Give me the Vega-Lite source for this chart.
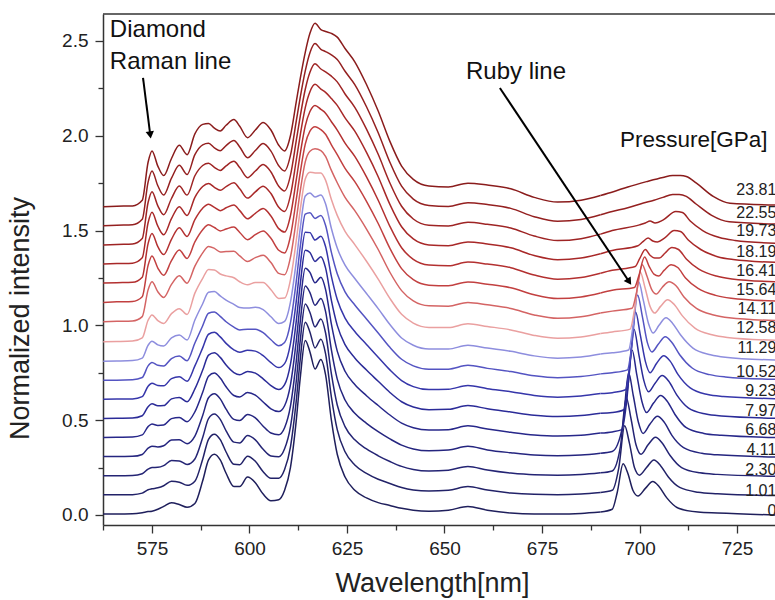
{
"$schema": "https://vega.github.io/schema/vega-lite/v6.json",
"width": 672, "height": 511,
"autosize": {"type": "none"},
"padding": {"left": 103, "top": 14, "right": 0, "bottom": 75},
"background": "white",
"config": {
 "view": {"stroke": null},
 "font": "Liberation Sans",
 "axis": {"labelFont": "Liberation Sans", "titleFont": "Liberation Sans", "labelColor": "#222", "titleColor": "#222", "titleFontWeight": "normal", "domainColor": "#333", "tickColor": "#333", "grid": false, "domainWidth": 1.5, "tickWidth": 1.3}
},
"datasets": {
 "wide": [
 {"w":562.5,"a":0.005,"b":0.106,"c":0.207,"d":0.308,"e":0.409,"f":0.509,"g":0.61,"h":0.711,"i":0.811,"j":0.914,"k":1.019,"l":1.121,"m":1.223,"n":1.323,"o":1.424,"p":1.525,"q":1.625},
 {"w":566,"a":0.005,"b":0.106,"c":0.207,"d":0.308,"e":0.41,"f":0.51,"g":0.611,"h":0.711,"i":0.812,"j":0.915,"k":1.021,"l":1.124,"m":1.225,"n":1.326,"o":1.427,"p":1.528,"q":1.628},
 {"w":570,"a":0.006,"b":0.107,"c":0.208,"d":0.309,"e":0.411,"f":0.511,"g":0.612,"h":0.713,"i":0.814,"j":0.917,"k":1.023,"l":1.126,"m":1.227,"n":1.328,"o":1.429,"p":1.53,"q":1.63},
 {"w":572.5,"a":0.012,"b":0.115,"c":0.217,"d":0.319,"e":0.422,"f":0.523,"g":0.624,"h":0.725,"i":0.827,"j":0.934,"k":1.046,"l":1.151,"m":1.254,"n":1.356,"o":1.458,"p":1.559,"q":1.66},
 {"w":574,"a":0.018,"b":0.133,"c":0.242,"d":0.352,"e":0.466,"f":0.571,"g":0.679,"h":0.786,"i":0.895,"j":1.027,"k":1.187,"l":1.316,"m":1.431,"n":1.541,"o":1.648,"p":1.755,"q":1.86},
 {"w":575,"a":0.02,"b":0.138,"c":0.25,"d":0.362,"e":0.48,"f":0.586,"g":0.695,"h":0.804,"i":0.916,"j":1.055,"k":1.23,"l":1.366,"m":1.484,"n":1.596,"o":1.705,"p":1.814,"q":1.92},
 {"w":576.5,"a":0.03,"b":0.143,"c":0.251,"d":0.359,"e":0.472,"f":0.576,"g":0.683,"h":0.789,"i":0.897,"j":1.025,"k":1.177,"l":1.302,"m":1.415,"n":1.523,"o":1.63,"p":1.736,"q":1.84},
 {"w":578,"a":0.045,"b":0.154,"c":0.26,"d":0.365,"e":0.474,"f":0.577,"g":0.681,"h":0.786,"i":0.891,"j":1.01,"k":1.147,"l":1.264,"m":1.373,"n":1.478,"o":1.583,"p":1.687,"q":1.79},
 {"w":580,"a":0.065,"b":0.178,"c":0.287,"d":0.395,"e":0.508,"f":0.612,"g":0.719,"h":0.825,"i":0.934,"j":1.062,"k":1.216,"l":1.341,"m":1.454,"n":1.563,"o":1.669,"p":1.776,"q":1.88},
 {"w":582,"a":0.055,"b":0.173,"c":0.285,"d":0.396,"e":0.514,"f":0.62,"g":0.729,"h":0.838,"i":0.949,"j":1.088,"k":1.262,"l":1.397,"m":1.515,"n":1.626,"o":1.735,"p":1.844,"q":1.95},
 {"w":584,"a":0.04,"b":0.156,"c":0.266,"d":0.376,"e":0.492,"f":0.597,"g":0.705,"h":0.813,"i":0.923,"j":1.057,"k":1.222,"l":1.353,"m":1.469,"n":1.579,"o":1.687,"p":1.795,"q":1.9},
 {"w":586,"a":0.06,"b":0.178,"c":0.295,"d":0.416,"e":0.544,"f":0.665,"g":0.786,"h":0.907,"i":1.028,"j":1.17,"k":1.312,"l":1.44,"m":1.558,"n":1.675,"o":1.789,"p":1.9,"q":2.01},
 {"w":588,"a":0.18,"b":0.294,"c":0.408,"d":0.525,"e":0.647,"f":0.764,"g":0.881,"h":0.998,"i":1.114,"j":1.248,"k":1.382,"l":1.504,"m":1.618,"n":1.732,"o":1.843,"p":1.952,"q":2.06},
 {"w":589.5,"a":0.29,"b":0.399,"c":0.508,"d":0.618,"e":0.732,"f":0.843,"g":0.953,"h":1.064,"i":1.174,"j":1.295,"k":1.416,"l":1.53,"m":1.639,"n":1.748,"o":1.855,"p":1.96,"q":2.065},
 {"w":591,"a":0.32,"b":0.426,"c":0.532,"d":0.639,"e":0.749,"f":0.856,"g":0.963,"h":1.07,"i":1.178,"j":1.292,"k":1.406,"l":1.516,"m":1.622,"n":1.728,"o":1.833,"p":1.936,"q":2.04},
 {"w":592.5,"a":0.29,"b":0.397,"c":0.504,"d":0.612,"e":0.722,"f":0.831,"g":0.939,"h":1.047,"i":1.155,"j":1.271,"k":1.387,"l":1.498,"m":1.605,"n":1.712,"o":1.817,"p":1.921,"q":2.025},
 {"w":594,"a":0.22,"b":0.332,"c":0.444,"d":0.558,"e":0.676,"f":0.791,"g":0.905,"h":1.019,"i":1.133,"j":1.261,"k":1.389,"l":1.508,"m":1.62,"n":1.732,"o":1.841,"p":1.948,"q":2.055},
 {"w":596,"a":0.15,"b":0.267,"c":0.384,"d":0.504,"e":0.63,"f":0.751,"g":0.871,"h":0.991,"i":1.111,"j":1.251,"k":1.391,"l":1.518,"m":1.635,"n":1.752,"o":1.865,"p":1.975,"q":2.085},
 {"w":597.5,"a":0.15,"b":0.265,"c":0.38,"d":0.498,"e":0.622,"f":0.74,"g":0.858,"h":0.976,"i":1.094,"j":1.23,"k":1.366,"l":1.49,"m":1.605,"n":1.72,"o":1.832,"p":1.941,"q":2.05},
 {"w":599.5,"a":0.2,"b":0.31,"c":0.419,"d":0.53,"e":0.646,"f":0.757,"g":0.868,"h":0.98,"i":1.091,"j":1.214,"k":1.337,"l":1.452,"m":1.562,"n":1.671,"o":1.779,"p":1.884,"q":1.99},
 {"w":601.5,"a":0.17,"b":0.283,"c":0.396,"d":0.512,"e":0.632,"f":0.748,"g":0.864,"h":0.979,"i":1.095,"j":1.226,"k":1.357,"l":1.478,"m":1.591,"n":1.704,"o":1.814,"p":1.922,"q":2.03},
 {"w":603.5,"a":0.11,"b":0.228,"c":0.346,"d":0.468,"e":0.596,"f":0.718,"g":0.84,"h":0.961,"i":1.083,"j":1.226,"k":1.369,"l":1.498,"m":1.616,"n":1.734,"o":1.848,"p":1.959,"q":2.07},
 {"w":605.5,"a":0.075,"b":0.193,"c":0.311,"d":0.432,"e":0.56,"f":0.682,"g":0.803,"h":0.924,"i":1.045,"j":1.188,"k":1.331,"l":1.459,"m":1.577,"n":1.695,"o":1.809,"p":1.919,"q":2.03},
 {"w":607.5,"a":0.08,"b":0.194,"c":0.307,"d":0.423,"e":0.545,"f":0.661,"g":0.777,"h":0.893,"i":1.01,"j":1.142,"k":1.274,"l":1.396,"m":1.51,"n":1.623,"o":1.734,"p":1.842,"q":1.95},
 {"w":609,"a":0.13,"b":0.24,"c":0.349,"d":0.46,"e":0.576,"f":0.687,"g":0.798,"h":0.91,"i":1.021,"j":1.144,"k":1.267,"l":1.382,"m":1.492,"n":1.601,"o":1.709,"p":1.814,"q":1.92},
 {"w":610.5,"a":0.25,"b":0.358,"c":0.465,"d":0.574,"e":0.686,"f":0.795,"g":0.904,"h":1.013,"i":1.122,"j":1.24,"k":1.358,"l":1.47,"m":1.578,"n":1.685,"o":1.791,"p":1.896,"q":2.0},
 {"w":612,"a":0.5,"b":0.604,"c":0.708,"d":0.813,"e":0.919,"f":1.024,"g":1.129,"h":1.234,"i":1.338,"j":1.448,"k":1.558,"l":1.664,"m":1.768,"n":1.872,"o":1.975,"p":2.078,"q":2.18},
 {"w":613,"a":0.72,"b":0.819,"c":0.918,"d":1.017,"e":1.115,"f":1.214,"g":1.313,"h":1.412,"i":1.51,"j":1.608,"k":1.706,"l":1.804,"m":1.903,"n":2.002,"o":2.101,"p":2.201,"q":2.3},
 {"w":614.3,"a":0.92,"b":1.016,"c":1.112,"d":1.207,"e":1.301,"f":1.396,"g":1.491,"h":1.586,"i":1.682,"j":1.772,"k":1.862,"l":1.956,"m":2.052,"n":2.148,"o":2.245,"p":2.342,"q":2.44},
 {"w":615.5,"a":0.86,"b":0.964,"c":1.068,"d":1.173,"e":1.279,"f":1.384,"g":1.489,"h":1.594,"i":1.698,"j":1.808,"k":1.918,"l":2.024,"m":2.128,"n":2.232,"o":2.335,"p":2.438,"q":2.54},
 {"w":616.8,"a":0.77,"b":0.881,"c":0.992,"d":1.106,"e":1.224,"f":1.337,"g":1.45,"h":1.564,"i":1.677,"j":1.804,"k":1.931,"l":2.048,"m":2.16,"n":2.271,"o":2.38,"p":2.486,"q":2.593},
 {"w":618.3,"a":0.82,"b":0.927,"c":1.034,"d":1.142,"e":1.254,"f":1.362,"g":1.47,"h":1.579,"i":1.687,"j":1.804,"k":1.921,"l":2.032,"m":2.139,"n":2.246,"o":2.352,"p":2.456,"q":2.56},
 {"w":619.5,"a":0.74,"b":0.851,"c":0.961,"d":1.074,"e":1.19,"f":1.303,"g":1.416,"h":1.528,"i":1.641,"j":1.766,"k":1.891,"l":2.008,"m":2.119,"n":2.229,"o":2.337,"p":2.444,"q":2.55},
 {"w":621,"a":0.5,"b":0.622,"c":0.744,"d":0.87,"e":1.006,"f":1.132,"g":1.258,"h":1.385,"i":1.511,"j":1.664,"k":1.817,"l":1.952,"m":2.074,"n":2.196,"o":2.314,"p":2.427,"q":2.54},
 {"w":622.5,"a":0.32,"b":0.45,"c":0.58,"d":0.716,"e":0.864,"f":1.0,"g":1.136,"h":1.272,"i":1.408,"j":1.58,"k":1.752,"l":1.9,"m":2.03,"n":2.16,"o":2.284,"p":2.402,"q":2.52},
 {"w":624.5,"a":0.2,"b":0.333,"c":0.466,"d":0.606,"e":0.758,"f":0.898,"g":1.038,"h":1.177,"i":1.317,"j":1.496,"k":1.675,"l":1.828,"m":1.961,"n":2.094,"o":2.22,"p":2.34,"q":2.46},
 {"w":627,"a":0.13,"b":0.263,"c":0.396,"d":0.536,"e":0.688,"f":0.828,"g":0.968,"h":1.107,"i":1.247,"j":1.426,"k":1.605,"l":1.758,"m":1.891,"n":2.024,"o":2.15,"p":2.27,"q":2.39},
 {"w":630,"a":0.09,"b":0.219,"c":0.348,"d":0.483,"e":0.629,"f":0.764,"g":0.899,"h":1.034,"i":1.168,"j":1.338,"k":1.508,"l":1.654,"m":1.783,"n":1.912,"o":2.035,"p":2.153,"q":2.27},
 {"w":633,"a":0.065,"b":0.188,"c":0.312,"d":0.439,"e":0.577,"f":0.705,"g":0.832,"h":0.96,"i":1.088,"j":1.244,"k":1.4,"l":1.537,"m":1.66,"n":1.784,"o":1.902,"p":2.016,"q":2.13},
 {"w":636,"a":0.05,"b":0.166,"c":0.282,"d":0.401,"e":0.527,"f":0.646,"g":0.765,"h":0.884,"i":1.004,"j":1.142,"k":1.28,"l":1.406,"m":1.522,"n":1.638,"o":1.751,"p":1.86,"q":1.97},
 {"w":639,"a":0.035,"b":0.145,"c":0.256,"d":0.368,"e":0.484,"f":0.597,"g":0.709,"h":0.821,"i":0.933,"j":1.058,"k":1.183,"l":1.299,"m":1.409,"n":1.52,"o":1.628,"p":1.734,"q":1.84},
 {"w":642,"a":0.025,"b":0.132,"c":0.24,"d":0.348,"e":0.46,"f":0.569,"g":0.677,"h":0.786,"i":0.895,"j":1.012,"k":1.129,"l":1.241,"m":1.348,"n":1.456,"o":1.561,"p":1.666,"q":1.77},
 {"w":646,"a":0.02,"b":0.126,"c":0.232,"d":0.338,"e":0.448,"f":0.555,"g":0.661,"h":0.768,"i":0.875,"j":0.989,"k":1.103,"l":1.212,"m":1.318,"n":1.424,"o":1.528,"p":1.632,"q":1.735},
 {"w":651,"a":0.025,"b":0.13,"c":0.236,"d":0.342,"e":0.45,"f":0.557,"g":0.663,"h":0.769,"i":0.875,"j":0.988,"k":1.101,"l":1.209,"m":1.314,"n":1.42,"o":1.524,"p":1.627,"q":1.73},
 {"w":656,"a":0.045,"b":0.15,"c":0.256,"d":0.362,"e":0.47,"f":0.577,"g":0.683,"h":0.789,"i":0.895,"j":1.008,"k":1.121,"l":1.229,"m":1.334,"n":1.44,"o":1.544,"p":1.647,"q":1.75},
 {"w":661,"a":0.025,"b":0.131,"c":0.237,"d":0.343,"e":0.453,"f":0.56,"g":0.666,"h":0.773,"i":0.88,"j":0.994,"k":1.108,"l":1.217,"m":1.323,"n":1.429,"o":1.533,"p":1.637,"q":1.74},
 {"w":667,"a":0.01,"b":0.116,"c":0.221,"d":0.328,"e":0.436,"f":0.543,"g":0.65,"h":0.756,"i":0.863,"j":0.976,"k":1.089,"l":1.198,"m":1.304,"n":1.409,"o":1.513,"p":1.617,"q":1.72},
 {"w":673,"a":0.005,"b":0.109,"c":0.212,"d":0.316,"e":0.422,"f":0.526,"g":0.63,"h":0.734,"i":0.839,"j":0.947,"k":1.055,"l":1.161,"m":1.265,"n":1.368,"o":1.471,"p":1.573,"q":1.675},
 {"w":679,"a":0.005,"b":0.107,"c":0.21,"d":0.312,"e":0.416,"f":0.519,"g":0.621,"h":0.724,"i":0.827,"j":0.932,"k":1.037,"l":1.141,"m":1.243,"n":1.346,"o":1.447,"p":1.549,"q":1.65},
 {"w":685,"a":0.008,"b":0.111,"c":0.213,"d":0.316,"e":0.42,"f":0.524,"g":0.627,"h":0.73,"i":0.833,"j":0.939,"k":1.045,"l":1.15,"m":1.252,"n":1.355,"o":1.457,"p":1.558,"q":1.66},
 {"w":690,"a":0.015,"b":0.119,"c":0.222,"d":0.326,"e":0.432,"f":0.536,"g":0.64,"h":0.744,"i":0.849,"j":0.957,"k":1.065,"l":1.171,"m":1.275,"n":1.378,"o":1.481,"p":1.583,"q":1.685}
 ],
 "ruby": [
 {"curve":"a","w":690,"val":0.015},{"curve":"a","w":693,"val":0.03},{"curve":"a","w":694.3,"val":0.12},{"curve":"a","w":695.8,"val":0.27},{"curve":"a","w":697,"val":0.22},{"curve":"a","w":698.3,"val":0.13},{"curve":"a","w":699.6,"val":0.1},{"curve":"a","w":701.5,"val":0.14},{"curve":"a","w":703.4,"val":0.176},{"curve":"a","w":705,"val":0.15},{"curve":"a","w":707,"val":0.09},{"curve":"a","w":710,"val":0.035},{"curve":"a","w":715,"val":0.015},{"curve":"a","w":720,"val":0.01},{"curve":"a","w":735,"val":0.0},
 {"curve":"b","w":690,"val":0.119},{"curve":"b","w":693,"val":0.13},{"curve":"b","w":694.7,"val":0.25},{"curve":"b","w":696.2,"val":0.47},{"curve":"b","w":697.4,"val":0.38},{"curve":"b","w":698.7,"val":0.25},{"curve":"b","w":700,"val":0.21},{"curve":"b","w":701.8,"val":0.25},{"curve":"b","w":703.7,"val":0.29},{"curve":"b","w":705.4,"val":0.26},{"curve":"b","w":707.4,"val":0.2},{"curve":"b","w":710.3,"val":0.145},{"curve":"b","w":715,"val":0.12},{"curve":"b","w":720,"val":0.112},{"curve":"b","w":735,"val":0.102},
 {"curve":"c","w":690,"val":0.222},{"curve":"c","w":693,"val":0.232},{"curve":"c","w":695.1,"val":0.36},{"curve":"c","w":696.6,"val":0.62},{"curve":"c","w":697.8,"val":0.51},{"curve":"c","w":699.1,"val":0.37},{"curve":"c","w":700.4,"val":0.32},{"curve":"c","w":702.2,"val":0.37},{"curve":"c","w":704.1,"val":0.41},{"curve":"c","w":705.8,"val":0.38},{"curve":"c","w":707.8,"val":0.315},{"curve":"c","w":710.8,"val":0.25},{"curve":"c","w":715.5,"val":0.222},{"curve":"c","w":720,"val":0.214},{"curve":"c","w":735,"val":0.204},
 {"curve":"d","w":690,"val":0.326},{"curve":"d","w":693,"val":0.335},{"curve":"d","w":695.7,"val":0.47},{"curve":"d","w":697.2,"val":0.75},{"curve":"d","w":698.4,"val":0.63},{"curve":"d","w":699.7,"val":0.49},{"curve":"d","w":700.9,"val":0.43},{"curve":"d","w":702.7,"val":0.48},{"curve":"d","w":704.6,"val":0.52},{"curve":"d","w":706.3,"val":0.49},{"curve":"d","w":708.3,"val":0.42},{"curve":"d","w":711.3,"val":0.355},{"curve":"d","w":716,"val":0.325},{"curve":"d","w":720,"val":0.317},{"curve":"d","w":735,"val":0.306},
 {"curve":"e","w":690,"val":0.432},{"curve":"e","w":693,"val":0.438},{"curve":"e","w":695.5,"val":0.45},{"curve":"e","w":696.6,"val":0.58},{"curve":"e","w":698.1,"val":0.87},{"curve":"e","w":699.3,"val":0.74},{"curve":"e","w":700.6,"val":0.6},{"curve":"e","w":701.8,"val":0.54},{"curve":"e","w":703.6,"val":0.59},{"curve":"e","w":705.4,"val":0.63},{"curve":"e","w":707.1,"val":0.6},{"curve":"e","w":709.1,"val":0.53},{"curve":"e","w":712,"val":0.46},{"curve":"e","w":716.5,"val":0.43},{"curve":"e","w":721,"val":0.42},{"curve":"e","w":735,"val":0.408},
 {"curve":"f","w":690,"val":0.536},{"curve":"f","w":693,"val":0.54},{"curve":"f","w":696,"val":0.555},{"curve":"f","w":697.1,"val":0.69},{"curve":"f","w":698.6,"val":0.98},{"curve":"f","w":699.8,"val":0.85},{"curve":"f","w":701.1,"val":0.71},{"curve":"f","w":702.3,"val":0.65},{"curve":"f","w":704,"val":0.695},{"curve":"f","w":705.8,"val":0.735},{"curve":"f","w":707.5,"val":0.705},{"curve":"f","w":709.5,"val":0.635},{"curve":"f","w":712.5,"val":0.565},{"curve":"f","w":717,"val":0.532},{"curve":"f","w":721,"val":0.522},{"curve":"f","w":735,"val":0.51},
 {"curve":"g","w":690,"val":0.64},{"curve":"g","w":693,"val":0.645},{"curve":"g","w":696.4,"val":0.66},{"curve":"g","w":697.5,"val":0.79},{"curve":"g","w":699,"val":1.07},{"curve":"g","w":700.2,"val":0.95},{"curve":"g","w":701.5,"val":0.81},{"curve":"g","w":702.7,"val":0.75},{"curve":"g","w":704.4,"val":0.8},{"curve":"g","w":706.2,"val":0.84},{"curve":"g","w":707.9,"val":0.81},{"curve":"g","w":709.9,"val":0.74},{"curve":"g","w":713,"val":0.67},{"curve":"g","w":717.5,"val":0.635},{"curve":"g","w":721.5,"val":0.625},{"curve":"g","w":735,"val":0.613},
 {"curve":"h","w":690,"val":0.744},{"curve":"h","w":693,"val":0.75},{"curve":"h","w":696.9,"val":0.765},{"curve":"h","w":698,"val":0.89},{"curve":"h","w":699.5,"val":1.16},{"curve":"h","w":700.7,"val":1.05},{"curve":"h","w":702,"val":0.91},{"curve":"h","w":703.2,"val":0.86},{"curve":"h","w":704.8,"val":0.9},{"curve":"h","w":706.6,"val":0.94},{"curve":"h","w":708.3,"val":0.91},{"curve":"h","w":710.3,"val":0.845},{"curve":"h","w":713.5,"val":0.775},{"curve":"h","w":718,"val":0.74},{"curve":"h","w":722,"val":0.728},{"curve":"h","w":735,"val":0.715},
 {"curve":"i","w":690,"val":0.849},{"curve":"i","w":693,"val":0.855},{"curve":"i","w":697.2,"val":0.87},{"curve":"i","w":698.3,"val":0.99},{"curve":"i","w":699.8,"val":1.23},{"curve":"i","w":701,"val":1.13},{"curve":"i","w":702.3,"val":1.01},{"curve":"i","w":703.5,"val":0.96},{"curve":"i","w":705,"val":1.0},{"curve":"i","w":706.8,"val":1.04},{"curve":"i","w":708.5,"val":1.01},{"curve":"i","w":710.5,"val":0.95},{"curve":"i","w":713.7,"val":0.88},{"curve":"i","w":718.2,"val":0.845},{"curve":"i","w":722,"val":0.832},{"curve":"i","w":735,"val":0.817},
 {"curve":"j","w":690,"val":0.957},{"curve":"j","w":693,"val":0.965},{"curve":"j","w":697.6,"val":0.98},{"curve":"j","w":698.7,"val":1.08},{"curve":"j","w":700.2,"val":1.28},{"curve":"j","w":701.4,"val":1.2},{"curve":"j","w":702.7,"val":1.1},{"curve":"j","w":703.9,"val":1.065},{"curve":"j","w":705.4,"val":1.1},{"curve":"j","w":707.2,"val":1.135},{"curve":"j","w":708.9,"val":1.11},{"curve":"j","w":711,"val":1.05},{"curve":"j","w":714.2,"val":0.985},{"curve":"j","w":718.6,"val":0.95},{"curve":"j","w":722.5,"val":0.936},{"curve":"j","w":735,"val":0.921},
 {"curve":"k","w":690,"val":1.065},{"curve":"k","w":693,"val":1.075},{"curve":"k","w":698.1,"val":1.09},{"curve":"k","w":699.2,"val":1.17},{"curve":"k","w":700.7,"val":1.32},{"curve":"k","w":701.9,"val":1.26},{"curve":"k","w":703.1,"val":1.19},{"curve":"k","w":704.3,"val":1.165},{"curve":"k","w":705.8,"val":1.2},{"curve":"k","w":707.6,"val":1.23},{"curve":"k","w":709.3,"val":1.21},{"curve":"k","w":711.4,"val":1.15},{"curve":"k","w":714.6,"val":1.09},{"curve":"k","w":719,"val":1.055},{"curve":"k","w":723,"val":1.04},{"curve":"k","w":735,"val":1.025},
 {"curve":"l","w":690,"val":1.171},{"curve":"l","w":693,"val":1.185},{"curve":"l","w":698.7,"val":1.2},{"curve":"l","w":699.8,"val":1.26},{"curve":"l","w":701.3,"val":1.36},{"curve":"l","w":702.5,"val":1.31},{"curve":"l","w":703.7,"val":1.27},{"curve":"l","w":704.9,"val":1.26},{"curve":"l","w":706.3,"val":1.29},{"curve":"l","w":708.1,"val":1.32},{"curve":"l","w":709.8,"val":1.305},{"curve":"l","w":711.8,"val":1.25},{"curve":"l","w":715,"val":1.195},{"curve":"l","w":719.5,"val":1.158},{"curve":"l","w":723.5,"val":1.143},{"curve":"l","w":735,"val":1.128},
 {"curve":"m","w":690,"val":1.275},{"curve":"m","w":693,"val":1.29},{"curve":"m","w":698.9,"val":1.31},{"curve":"m","w":700,"val":1.35},{"curve":"m","w":701.5,"val":1.4},{"curve":"m","w":702.7,"val":1.37},{"curve":"m","w":703.9,"val":1.355},{"curve":"m","w":705.1,"val":1.355},{"curve":"m","w":706.5,"val":1.38},{"curve":"m","w":708.3,"val":1.41},{"curve":"m","w":710,"val":1.4},{"curve":"m","w":712,"val":1.35},{"curve":"m","w":715.2,"val":1.297},{"curve":"m","w":719.7,"val":1.26},{"curve":"m","w":723.7,"val":1.245},{"curve":"m","w":735,"val":1.23},
 {"curve":"n","w":690,"val":1.378},{"curve":"n","w":693,"val":1.395},{"curve":"n","w":699.6,"val":1.42},{"curve":"n","w":700.8,"val":1.44},{"curve":"n","w":702.2,"val":1.46},{"curve":"n","w":703.4,"val":1.445},{"curve":"n","w":704.6,"val":1.44},{"curve":"n","w":706.4,"val":1.46},{"curve":"n","w":708.9,"val":1.5},{"curve":"n","w":710.5,"val":1.495},{"curve":"n","w":712.5,"val":1.45},{"curve":"n","w":715.7,"val":1.4},{"curve":"n","w":720,"val":1.362},{"curve":"n","w":724,"val":1.347},{"curve":"n","w":735,"val":1.332},
 {"curve":"o","w":690,"val":1.481},{"curve":"o","w":693,"val":1.5},{"curve":"o","w":700,"val":1.53},{"curve":"o","w":701.5,"val":1.54},{"curve":"o","w":702.7,"val":1.55},{"curve":"o","w":704,"val":1.54},{"curve":"o","w":706,"val":1.555},{"curve":"o","w":709.3,"val":1.6},{"curve":"o","w":711,"val":1.595},{"curve":"o","w":713,"val":1.55},{"curve":"o","w":716.2,"val":1.5},{"curve":"o","w":720.5,"val":1.463},{"curve":"o","w":724.5,"val":1.448},{"curve":"o","w":735,"val":1.433},
 {"curve":"p","w":690,"val":1.583},{"curve":"p","w":693,"val":1.6},{"curve":"p","w":697,"val":1.62},{"curve":"p","w":701,"val":1.645},{"curve":"p","w":703.7,"val":1.66},{"curve":"p","w":706,"val":1.675},{"curve":"p","w":708.5,"val":1.69},{"curve":"p","w":710.2,"val":1.69},{"curve":"p","w":712,"val":1.68},{"curve":"p","w":714.5,"val":1.64},{"curve":"p","w":718.5,"val":1.58},{"curve":"p","w":723,"val":1.546},{"curve":"p","w":735,"val":1.534},
 {"curve":"q","w":690,"val":1.685},{"curve":"q","w":693.3,"val":1.705},{"curve":"q","w":697,"val":1.73},{"curve":"q","w":701.8,"val":1.758},{"curve":"q","w":706,"val":1.78},{"curve":"q","w":708.5,"val":1.79},{"curve":"q","w":710.5,"val":1.79},{"curve":"q","w":712,"val":1.785},{"curve":"q","w":714.6,"val":1.75},{"curve":"q","w":718.9,"val":1.68},{"curve":"q","w":723.2,"val":1.644},{"curve":"q","w":735,"val":1.635}
 ],
 "labels": [
 {"t":"23.81","w":735.1,"val":1.714},{"t":"22.55","w":735.1,"val":1.593},{"t":"19.73","w":735.1,"val":1.498},{"t":"18.19","w":735.1,"val":1.387},{"t":"16.41","w":735.1,"val":1.287},{"t":"15.64","w":735.1,"val":1.187},{"t":"14.11","w":735.1,"val":1.086},{"t":"12.58","w":735.1,"val":0.986},{"t":"11.29","w":735.1,"val":0.881},{"t":"10.52","w":735.1,"val":0.754},{"t":"9.23","w":735.1,"val":0.654},{"t":"7.97","w":735.1,"val":0.549},{"t":"6.68","w":735.1,"val":0.448},{"t":"4.11","w":735.1,"val":0.343},{"t":"2.30","w":735.1,"val":0.237},{"t":"1.01","w":735.1,"val":0.127},{"t":"0","w":735.1,"val":0.021}
 ],
 "notes": [
 {"t":"Diamond","w":564.2,"val":2.558},{"t":"Raman line","w":564.2,"val":2.389},{"t":"Ruby line","w":655.5,"val":2.336}
 ],
 "notes2": [
 {"t":"Pressure[GPa]","w":695,"val":1.978}
 ],
 "arrows": [
 {"w":572.7,"val":2.305,"w2":574.56,"val2":2.004},{"w":664.2,"val":2.252,"w2":697.35,"val2":1.23}
 ],
 "heads": [
 {"w":574.56,"val":2.004,"a":352.4},{"w":697.35,"val":1.23,"a":326.5}
 ]
},
"layer": [
 {"data": {"name": "wide"},
  "transform": [{"fold": ["a","b","c","d","e","f","g","h","i","j","k","l","m","n","o","p","q"], "as": ["curve","val"]}],
  "mark": {"type": "line", "strokeWidth": 1.5, "interpolate": "monotone"},
  "encoding": {
   "x": {"field": "w", "type": "quantitative", "scale": {"domain": [562.44, 734.74], "nice": false, "zero": false},
     "axis": {"values": [562.5,575,587.5,600,612.5,625,637.5,650,662.5,675,687.5,700,712.5,725], "labelExpr": "datum.value % 25 === 0 ? format(datum.value, 'd') : ''", "tickSize": {"condition": {"test": "datum.value % 25 === 0", "value": 8}, "value": 5}, "labelFontSize": 19, "labelPadding": 6, "title": "Wavelength[nm]", "titleFontSize": 27, "titleX": 329, "titleY": 58, "titleBaseline": "middle", "titleAnchor": "middle"}},
   "y": {"field": "val", "type": "quantitative", "scale": {"domain": [-0.053, 2.642], "nice": false, "zero": false},
     "axis": {"values": [0,0.25,0.5,0.75,1,1.25,1.5,1.75,2,2.25,2.5], "labelExpr": "datum.value % 0.5 === 0 ? format(datum.value, '.1f') : ''", "tickSize": {"condition": {"test": "datum.value % 0.5 === 0", "value": 8}, "value": 5}, "labelFontSize": 19, "labelPadding": 7, "title": "Normalized intensity", "titleFontSize": 27, "titleX": -83, "titleY": 304, "titleBaseline": "middle", "titleAngle": -90}},
   "color": {"field": "curve", "type": "nominal", "legend": null,
     "scale": {"domain": ["a","b","c","d","e","f","g","h","i","j","k","l","m","n","o","p","q"], "range": ["#1f1f5c","#222268","#242474","#25257f","#27278a","#2b2b98","#3636aa","#5454c2","#8e8ede","#eaa0a0","#d46464","#c24040","#b33030","#a82828","#9e2424","#942020","#8a1c1c"]}}
  }},
 {"data": {"name": "ruby"},
  "mark": {"type": "line", "strokeWidth": 1.5, "interpolate": "monotone"},
  "encoding": {
   "x": {"field": "w", "type": "quantitative"},
   "y": {"field": "val", "type": "quantitative"},
   "color": {"field": "curve", "type": "nominal", "legend": null}
  }},
 {"data": {"values": [{"top": 2.642}]},
  "mark": {"type": "rule", "color": "#333", "strokeWidth": 1.5},
  "encoding": {"y": {"field": "top", "type": "quantitative"}}},
 {"data": {"name": "labels"},
  "mark": {"type": "text", "align": "right", "baseline": "middle", "fontSize": 16, "color": "#222", "font": "Liberation Sans"},
  "encoding": {"x": {"field": "w", "type": "quantitative"}, "y": {"field": "val", "type": "quantitative"}, "text": {"field": "t"}}},
 {"data": {"name": "notes"},
  "mark": {"type": "text", "align": "left", "baseline": "middle", "fontSize": 24, "color": "#111", "font": "Liberation Sans"},
  "encoding": {"x": {"field": "w", "type": "quantitative"}, "y": {"field": "val", "type": "quantitative"}, "text": {"field": "t"}}},
 {"data": {"name": "notes2"},
  "mark": {"type": "text", "align": "left", "baseline": "middle", "fontSize": 22.5, "color": "#111", "font": "Liberation Sans"},
  "encoding": {"x": {"field": "w", "type": "quantitative"}, "y": {"field": "val", "type": "quantitative"}, "text": {"field": "t"}}},
 {"data": {"name": "arrows"},
  "mark": {"type": "rule", "color": "#000", "strokeWidth": 2},
  "encoding": {"x": {"field": "w", "type": "quantitative"}, "y": {"field": "val", "type": "quantitative"}, "x2": {"field": "w2"}, "y2": {"field": "val2"}}},
 {"data": {"name": "heads"},
  "mark": {"type": "point", "shape": "triangle-down", "filled": true, "color": "#000", "size": 70, "opacity": 1},
  "encoding": {"x": {"field": "w", "type": "quantitative"}, "y": {"field": "val", "type": "quantitative"}, "angle": {"field": "a", "type": "quantitative", "scale": null}}}
]
}
